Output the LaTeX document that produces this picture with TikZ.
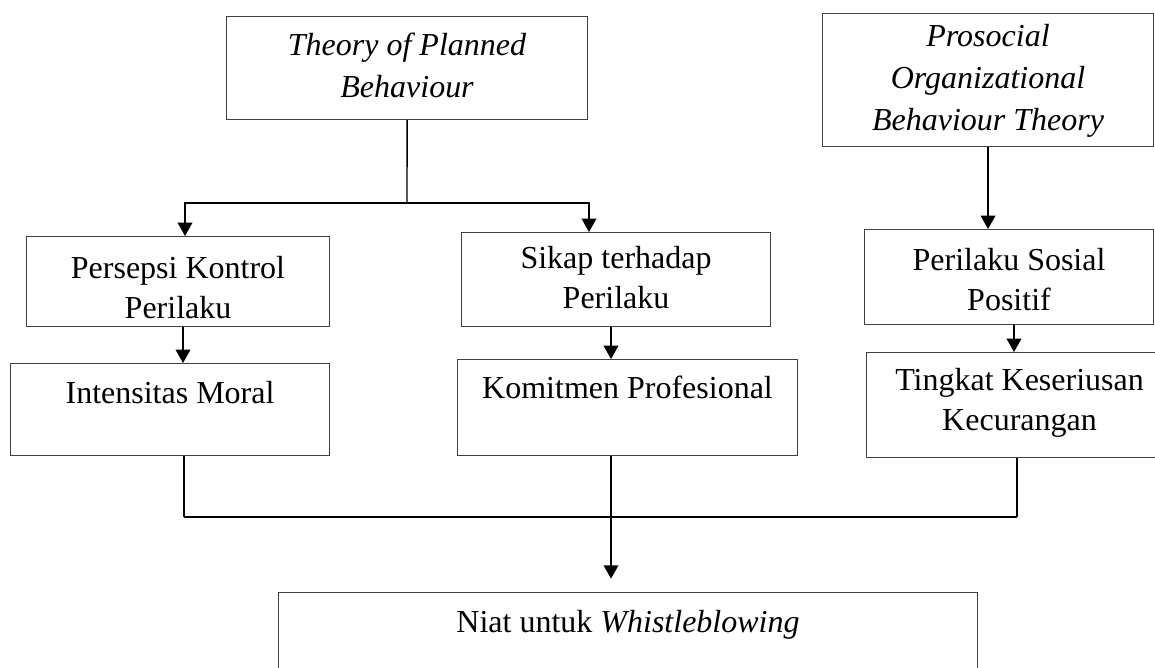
\documentclass[tikz,border=0pt]{standalone}
\usepackage{fontspec}
\setmainfont{Liberation Serif}
\usepackage{tikz}
\usetikzlibrary{arrows.meta, positioning, calc}

\begin{document}
\begin{tikzpicture}[x=0.375pt, y=-0.375pt, >=Stealth,
	box/.style={draw=black!75, line width=0.4pt, rectangle, align=center,
		anchor=north west, inner xsep=0pt, inner ysep=0pt,
		font=\fontsize{12}{15}\selectfont},
	theory/.style={box, font=\fontsize{12}{15.75}\selectfont\itshape},
	link/.style={line width=0.55pt},
	arrowlink/.style={->, line width=0.55pt, >={Triangle[width=5.5pt, length=5pt]}},
	mergeline/.style={line width=0.8pt}
	]
	
	\useasboundingbox (0,0) rectangle (1155,668);
	
	% Theories
	\node[theory, minimum width=135.375pt, text height=30.375pt, text depth=8.25pt]
		(tpb) at (226,16) {Theory of Planned\\Behaviour};
	\node[theory, minimum width=124.125pt, text height=43.875pt, text depth=6pt]
		(pobt) at (822,13) {Prosocial\\Organizational\\Behaviour Theory};
	
	% Constructs
	\node[box, minimum width=113.625pt, text height=30.75pt, text depth=3pt]
		(pkp) at (26,236) {Persepsi Kontrol\\Perilaku};
	\node[box, minimum width=115.875pt, text height=28.5pt, text depth=6.75pt]
		(stp) at (461,232) {Sikap terhadap\\Perilaku};
	\node[box, minimum width=108.375pt, text height=30.375pt, text depth=5.25pt]
		(psp) at (864,229) {Perilaku Sosial\\Positif};
	
	% Variables
	\node[box, minimum width=119.625pt, text height=15pt, text depth=19.5pt]
		(im) at (10,363) {Intensitas Moral};
	\node[box, minimum width=127.5pt, text height=14.625pt, text depth=21.375pt]
		(kp) at (457,359) {Komitmen Profesional};
	\node[box, minimum width=114.75pt, text height=29.25pt, text depth=10.125pt]
		(tkk) at (866,352) {Tingkat Keseriusan\\Kecurangan};
	
	% Dependent variable
	\node[box, minimum width=262.125pt, text height=15pt, text depth=22.5pt]
		(niat) at (278,592) {Niat untuk \textit{Whistleblowing}};
	
	% Connectors from theories
	\coordinate (tpbsplit) at (407,203);
	\draw[link] (tpb.south) -- (tpbsplit);
	\draw[arrowlink] (tpbsplit) -| (185,0 |- pkp.north);
	\draw[arrowlink] (tpbsplit) -| (589,0 |- stp.north);
	\draw[arrowlink] (pobt.south) -- (pobt.south |- psp.north);
	
	\draw[arrowlink] (183,0 |- pkp.south) -- (183,0 |- im.north);
	\draw[arrowlink] (611,0 |- stp.south) -- (611,0 |- kp.north);
	\draw[arrowlink] (1014,0 |- psp.south) -- (1014,0 |- tkk.north);
	
	% Merge into intention
	\coordinate (mergeleft) at (184,517);
	\coordinate (mergeright) at (1017,517);
	\draw[link] (184,0 |- im.south) -- (mergeleft);
	\draw[link] (1017,0 |- tkk.south) -- (mergeright);
	\draw[mergeline] (mergeleft) -- (mergeright);
	\draw[arrowlink, shorten >=5pt] (611,0 |- kp.south) -- (611,0 |- niat.north);
	
\end{tikzpicture}
\end{document}
